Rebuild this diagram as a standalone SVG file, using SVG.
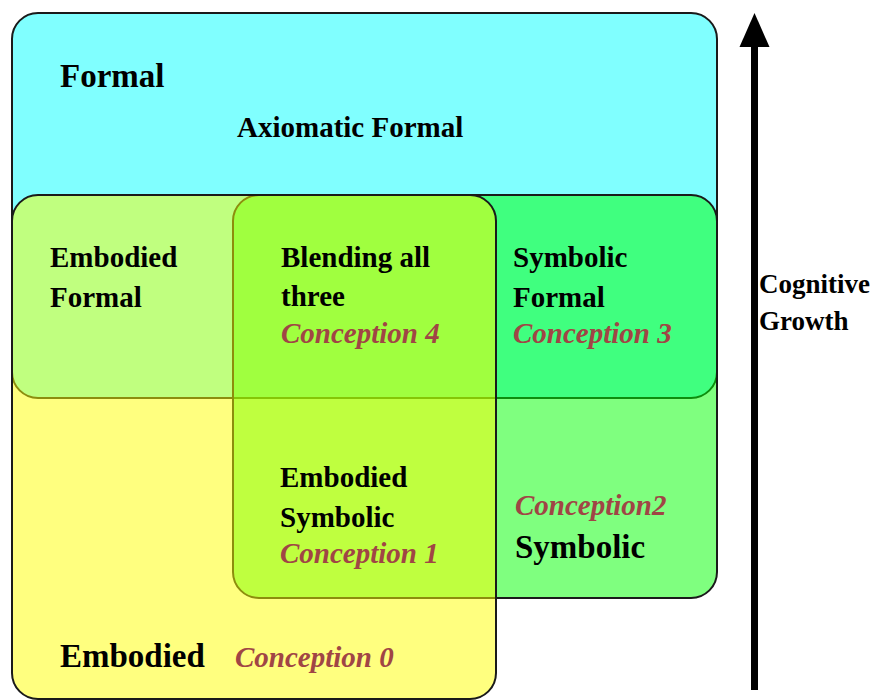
<svg xmlns="http://www.w3.org/2000/svg" width="881" height="700" viewBox="0 0 881 700">
  <defs>
    <style>
      .box { stroke: #1a1a1a; stroke-width: 2; }
      .lbl { font-family: "Liberation Serif", "Times New Roman", serif; font-weight: bold; font-size: 29px; fill: #000; }
      .big { font-size: 33px; }
      .con { font-family: "Liberation Serif", "Times New Roman", serif; font-weight: bold; font-style: italic; font-size: 29px; fill: #a04545; }
      .axis { font-family: "Liberation Serif", "Times New Roman", serif; font-weight: bold; font-size: 27px; fill: #000; }
    </style>
    <!-- arrowhead drawn along +x; base sits on the line end -->
    <marker id="head" markerUnits="userSpaceOnUse" markerWidth="36" markerHeight="32" refX="0" refY="15" orient="auto" viewBox="0 0 36 30">
      <path d="M0 0 L34 15 L0 30 Z" fill="#000"/>
    </marker>
  </defs>

  <!-- Formal world -->
  <g id="formal">
    <rect class="box" x="12" y="13" width="705" height="385" rx="26" ry="26" fill="#80ffff"/>
  </g>

  <!-- Symbolic world (translucent green) -->
  <g id="symbolic">
    <rect class="box" x="233" y="195" width="484" height="403" rx="26" ry="26" fill="#00ff00" fill-opacity="0.5"/>
  </g>

  <!-- Embodied world (translucent yellow) -->
  <g id="embodied">
    <rect class="box" x="12" y="195" width="484" height="504" rx="26" ry="26" fill="#ffff00" fill-opacity="0.5"/>
  </g>

  <!-- Region labels -->
  <g id="formal-labels">
    <text class="lbl big" x="60" y="87">Formal</text>
    <text class="lbl" x="237" y="137">Axiomatic Formal</text>
  </g>
  <g id="embodied-formal">
    <text class="lbl" x="50" y="267">Embodied</text>
    <text class="lbl" x="50" y="307">Formal</text>
  </g>
  <g id="blending">
    <text class="lbl" x="281" y="267">Blending all</text>
    <text class="lbl" x="281" y="306">three</text>
    <text class="con" x="281" y="343">Conception 4</text>
  </g>
  <g id="symbolic-formal">
    <text class="lbl" x="513" y="267">Symbolic</text>
    <text class="lbl" x="513" y="307">Formal</text>
    <text class="con" x="513" y="343">Conception 3</text>
  </g>
  <g id="embodied-symbolic">
    <text class="lbl" x="280" y="487">Embodied</text>
    <text class="lbl" x="280" y="527">Symbolic</text>
    <text class="con" x="280" y="563">Conception 1</text>
  </g>
  <g id="symbolic-labels">
    <text class="con" x="515" y="515">Conception2</text>
    <text class="lbl big" x="515" y="558">Symbolic</text>
  </g>
  <g id="embodied-labels">
    <text class="lbl big" x="60" y="667">Embodied</text>
    <text class="con" x="235" y="667">Conception 0</text>
  </g>

  <!-- Growth axis -->
  <g id="connectors">
    <line x1="754.5" y1="690" x2="754.5" y2="47" stroke="#000" stroke-width="7" marker-end="url(#head)"/>
  </g>
  <g id="growth-label">
    <text class="axis" x="759" y="293">Cognitive</text>
    <text class="axis" x="759" y="330">Growth</text>
  </g>
</svg>
